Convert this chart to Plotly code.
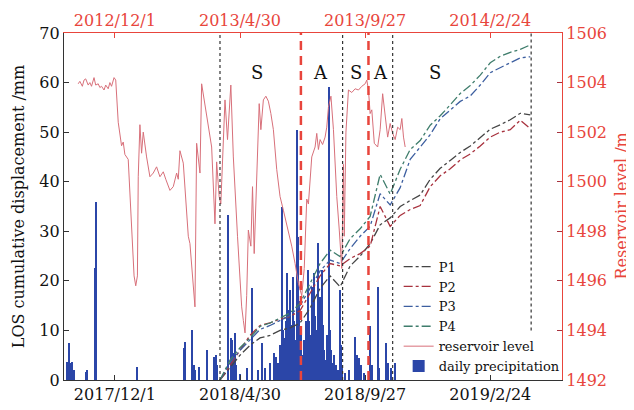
import plotly.graph_objects as go

# ---------------- data ----------------
# InSAR LOS cumulative displacement (mm), 12-day sampling
p_dates = ["2018-04-06", "2018-04-18", "2018-04-30", "2018-05-12", "2018-05-24", "2018-06-05",
           "2018-06-17", "2018-06-29", "2018-07-11", "2018-07-23", "2018-08-04", "2018-08-16",
           "2018-08-28", "2018-09-09", "2018-09-21", "2018-10-03", "2018-10-15", "2018-10-27",
           "2018-11-08", "2018-11-20", "2018-12-02", "2018-12-14", "2018-12-26", "2019-01-07",
           "2019-01-19", "2019-01-31", "2019-02-12", "2019-02-24", "2019-03-08", "2019-03-20",
           "2019-04-01", "2019-04-13"]
p1 = [0, 2.5, 5.0, 7.0, 8.5, 9.0, 10.0, 10.5, 11.5, 14.5, 18.5, 21.0, 18.8, 23.0, 25.0, 27.5,
      31.3, 32.7, 35.0, 36.2, 37.3, 40.5, 42.7, 44.3, 45.9, 47.2, 48.9, 50.6, 51.5, 52.5, 53.8, 53.5]
p2 = [0, 3.0, 6.0, 9.0, 11.0, 11.5, 12.3, 12.8, 14.0, 17.5, 21.0, 23.5, 23.0, 24.5, 25.5, 27.0,
      35.0, 31.0, 33.2, 34.4, 35.2, 39.0, 41.2, 42.6, 44.4, 45.6, 47.2, 49.0, 50.0, 50.5, 52.4, 50.7]
p3 = [0, 3.5, 6.0, 8.0, 10.2, 11.0, 12.0, 13.0, 15.0, 18.5, 22.0, 24.2, 23.5, 26.5, 29.0, 31.0,
      37.6, 35.3, 38.8, 44.5, 47.0, 49.5, 52.7, 54.5, 56.2, 57.3, 59.5, 62.0, 63.0, 64.0, 65.0, 65.2]
p4 = [0, 4.0, 6.5, 8.5, 10.8, 11.5, 12.5, 13.5, 15.5, 19.5, 23.5, 26.2, 24.9, 28.5, 30.5, 33.0,
      41.5, 37.5, 42.5, 46.5, 48.3, 51.4, 53.3, 55.5, 57.8, 59.4, 61.5, 64.0, 65.3, 66.1, 66.7, 67.6]

# Reservoir level (m), plotted against the top (2012-2014) date axis
res_dates = ["2012-10-18", "2012-10-20", "2012-10-23", "2012-10-25", "2012-10-27", "2012-10-30",
             "2012-11-01", "2012-11-03", "2012-11-06", "2012-11-08", "2012-11-11", "2012-11-13",
             "2012-11-15", "2012-11-18", "2012-11-20", "2012-11-23", "2012-11-25", "2012-11-27",
             "2012-11-30", "2012-12-02", "2012-12-05", "2012-12-07", "2012-12-09", "2012-12-11",
             "2012-12-13", "2012-12-17", "2012-12-21", "2012-12-24", "2012-12-26", "2012-12-28",
             "2012-12-29", "2012-12-31", "2013-01-02", "2013-01-04", "2013-01-08", "2013-01-12",
             "2013-01-16", "2013-01-20", "2013-01-24", "2013-01-28", "2013-01-31", "2013-02-05",
             "2013-02-09", "2013-02-13", "2013-02-15", "2013-02-17", "2013-02-21", "2013-02-27",
             "2013-03-01", "2013-03-05", "2013-03-07", "2013-03-09", "2013-03-13", "2013-03-15",
             "2013-03-21", "2013-03-27", "2013-03-31", "2013-04-02", "2013-04-05", "2013-04-07",
             "2013-04-12", "2013-04-15", "2013-04-19", "2013-04-22", "2013-04-27", "2013-05-02",
             "2013-05-04", "2013-05-06", "2013-05-08", "2013-05-10", "2013-05-13", "2013-05-15",
             "2013-05-17", "2013-05-20", "2013-05-23", "2013-05-25", "2013-05-28", "2013-05-31",
             "2013-06-03", "2013-06-06", "2013-06-09", "2013-06-13", "2013-06-17", "2013-06-21",
             "2013-06-24", "2013-06-27", "2013-07-01", "2013-07-05", "2013-07-09", "2013-07-13",
             "2013-07-16", "2013-07-19", "2013-07-21", "2013-07-25", "2013-07-29", "2013-07-31",
             "2013-08-02", "2013-08-04", "2013-08-07", "2013-08-10", "2013-08-12", "2013-08-14",
             "2013-08-17", "2013-08-20", "2013-08-24", "2013-08-27", "2013-08-30", "2013-09-01",
             "2013-09-02", "2013-09-04", "2013-09-07", "2013-09-11", "2013-09-15", "2013-09-19",
             "2013-09-23", "2013-09-27", "2013-09-29", "2013-10-01", "2013-10-03", "2013-10-05",
             "2013-10-08", "2013-10-12", "2013-10-15", "2013-10-18", "2013-10-21", "2013-10-24",
             "2013-10-27", "2013-10-30", "2013-11-02", "2013-11-05", "2013-11-08", "2013-11-10",
             "2013-11-12", "2013-11-14"]
res_level = [1503.95, 1504.05, 1503.85, 1504.10, 1504.15, 1503.90, 1504.00, 1503.85, 1504.20, 1503.90,
             1503.95, 1503.80, 1503.85, 1503.70, 1503.90, 1503.75, 1504.00, 1503.85, 1504.20, 1504.10,
             1502.40, 1501.80, 1501.45, 1501.60, 1501.10, 1500.90, 1498.00, 1496.20, 1495.80, 1496.20,
             1500.20, 1502.30, 1501.15, 1502.00, 1501.00, 1500.20, 1500.35, 1500.60, 1500.20, 1500.40,
             1500.10, 1499.65, 1499.80, 1500.35, 1500.10, 1501.25, 1500.75, 1497.80, 1497.50, 1495.90,
             1494.95, 1501.55, 1500.35, 1503.95, 1502.75, 1501.40, 1498.30, 1500.80, 1499.40, 1499.10,
             1503.30, 1501.70, 1503.90, 1501.00, 1497.80, 1494.95, 1494.40, 1493.90, 1495.40, 1498.05,
             1497.40, 1499.80, 1497.10, 1500.60, 1503.15, 1502.10, 1503.30, 1503.45, 1503.25, 1502.75,
             1502.10, 1500.50, 1499.40, 1498.85, 1498.45, 1498.05, 1497.40, 1496.70, 1495.90, 1495.40,
             1496.50, 1499.30, 1499.10, 1501.00, 1501.40, 1501.95, 1501.30, 1501.70, 1501.50, 1501.80,
             1502.20, 1503.00, 1503.45, 1502.10, 1499.40, 1498.05, 1496.50, 1500.70, 1497.80, 1502.00,
             1503.70, 1503.60, 1503.75, 1503.70, 1503.85, 1503.95, 1504.10, 1503.70, 1502.75, 1502.90,
             1501.55, 1501.40, 1502.10, 1503.55, 1502.60, 1501.80, 1502.35, 1501.95, 1501.70, 1502.20,
             1502.10, 1502.55, 1501.80, 1501.40]

# Daily precipitation (mm)
rain_dates = ["2017-10-05", "2017-10-07", "2017-10-09", "2017-10-11", "2017-10-13", "2017-10-27",
              "2017-10-29", "2017-11-07", "2017-11-08", "2017-12-28", "2018-02-22", "2018-02-23",
              "2018-03-04", "2018-03-06", "2018-03-07", "2018-03-12", "2018-03-21", "2018-03-30",
              "2018-04-01", "2018-04-02", "2018-04-16", "2018-04-19", "2018-04-20", "2018-04-22",
              "2018-04-24", "2018-04-25", "2018-04-30", "2018-05-08", "2018-05-14", "2018-05-15",
              "2018-05-22", "2018-05-27", "2018-05-30", "2018-06-05", "2018-06-10", "2018-06-12",
              "2018-06-15", "2018-06-17", "2018-06-19", "2018-06-21", "2018-06-22", "2018-06-23",
              "2018-06-24", "2018-06-26", "2018-06-27", "2018-06-28", "2018-06-29", "2018-06-30",
              "2018-07-01", "2018-07-03", "2018-07-04", "2018-07-06", "2018-07-07", "2018-07-09",
              "2018-07-10", "2018-07-12", "2018-07-14", "2018-07-16", "2018-07-18", "2018-07-19",
              "2018-07-21", "2018-07-22", "2018-07-24", "2018-07-25", "2018-07-27", "2018-07-28",
              "2018-07-29", "2018-07-30", "2018-07-31", "2018-08-02", "2018-08-03", "2018-08-04",
              "2018-08-05", "2018-08-06", "2018-08-08", "2018-08-09", "2018-08-10", "2018-08-11",
              "2018-08-13", "2018-08-15", "2018-08-16", "2018-08-17", "2018-08-19", "2018-08-21",
              "2018-08-23", "2018-08-26", "2018-08-28", "2018-08-29", "2018-08-31", "2018-09-03",
              "2018-09-08", "2018-09-15", "2018-09-17", "2018-09-20", "2018-09-22", "2018-09-26",
              "2018-10-03", "2018-10-05", "2018-10-12", "2018-10-14", "2018-10-22", "2018-10-25",
              "2018-10-28", "2018-11-02"]
rain_mm = [3.7, 7.4, 3.4, 3.7, 2.0, 1.7, 2.0, 22.5, 36.0, 2.7, 6.4, 7.7,
           10.1, 3.0, 2.0, 2.7, 6.1, 4.7, 5.0, 3.0, 33.3, 8.4, 8.0, 5.5,
           9.4, 3.0, 1.3, 2.5, 18.5, 3.0, 2.0, 7.4, 2.5, 3.5, 5.5, 4.7,
           3.5, 7.0, 35.0, 10.0, 6.5, 8.5, 12.0, 21.5, 9.0, 14.1, 18.2, 11.0,
           7.0, 20.8, 12.0, 8.0, 50.4, 28.9, 16.0, 10.1, 5.0, 8.0, 12.0, 9.0,
           22.2, 12.0, 9.0, 18.8, 14.0, 21.5, 13.0, 10.0, 7.0, 27.6, 12.0, 16.8,
           9.0, 22.2, 11.0, 6.0, 4.0, 2.5, 9.0, 59.2, 10.0, 6.0, 3.5, 5.0,
           3.0, 2.0, 18.2, 7.0, 3.0, 1.5, 2.0, 8.7, 5.0, 4.5, 3.0, 1.5,
           10.8, 3.0, 18.8, 2.5, 7.4, 3.5, 2.5, 3.4]

bottom_ticks = ["2017-12-01", "2018-04-30", "2018-09-27", "2019-02-24"]
bottom_labels = ["2017/12/1", "2018/4/30", "2018/9/27", "2019/2/24"]
top_ticks = ["2012-12-01", "2013-04-30", "2013-09-27", "2014-02-24"]
top_labels = ["2012/12/1", "2013/4/30", "2013/9/27", "2014/2/24"]

stage_dates = ["2018-05-20", "2018-08-05", "2018-09-16", "2018-10-16", "2018-12-20"]
stage_labels = ["S", "A", "S", "A", "S"]
black_lines = ["2018-04-06", "2018-08-31", "2018-10-30", "2019-04-14"]
red_lines = ["2018-07-12", "2018-10-01"]

# ---------------- figure ----------------
RED = "#e8453c"
FONT = "DejaVu Serif"
DAY = 86400000

fig = go.Figure()
p_colors = ["#454545", "#a8323e", "#3d5fa0", "#3f7d6c"]
for name, vals, col in zip(["P1", "P2", "P3", "P4"], [p1, p2, p3, p4], p_colors):
    fig.add_trace(go.Scatter(x=p_dates, y=vals, name=name, mode="lines",
                             line=dict(color=col, width=1.3, dash="dashdot"),
                             xaxis="x", yaxis="y"))

fig.add_trace(go.Scatter(x=res_dates, y=res_level, name="reservoir level", mode="lines",
                         line=dict(color="#d8707a", width=1), xaxis="x2", yaxis="y2"))

fig.add_trace(go.Bar(x=rain_dates, y=rain_mm, name="daily precipitation",
                     marker=dict(color="#2b46a8", line=dict(width=0)),
                     width=1.5 * DAY, xaxis="x", yaxis="y"))

shapes = []
for d in black_lines[:-1]:
    shapes.append(dict(type="line", xref="x", yref="y", x0=d, x1=d, y0=0, y1=70,
                       line=dict(color="#333333", width=1.2, dash="3px,3px")))
shapes.append(dict(type="line", xref="x", yref="y", x0=black_lines[-1], x1=black_lines[-1],
                   y0=10, y1=70, line=dict(color="#333333", width=1.2, dash="3px,3px")))
for d in red_lines:
    shapes.append(dict(type="line", xref="x", yref="y", x0=d, x1=d, y0=0, y1=70,
                       line=dict(color=RED, width=2.5, dash="9px,6px")))

annotations = [dict(x=d, y=62, xref="x", yref="y", text=t, showarrow=False,
                    font=dict(family=FONT, size=18, color="#111111"))
               for d, t in zip(stage_dates, stage_labels)]
annotations.append(dict(x=1.0, y=0.5, xref="paper", yref="paper", text="Reservoir level /m",
                        textangle=-90, showarrow=False, xanchor="center", yanchor="middle",
                        xshift=59, font=dict(family=FONT, size=16, color=RED)))

# the page body adds an 8 px offset, so the figure is 8 px smaller on each axis
fig.update_layout(
    width=626, height=402,
    margin=dict(l=56, r=72, t=25, b=30, autoexpand=False),
    plot_bgcolor="white", paper_bgcolor="white",
    font=dict(family=FONT, size=16, color="#111111"),
    bargap=0,
    showlegend=True,
    legend=dict(x=0.672, y=0.37, xanchor="left", yanchor="top",
                bgcolor="rgba(0,0,0,0)", borderwidth=0,
                font=dict(family=FONT, size=13, color="#111111"),
                tracegroupgap=0, itemwidth=30),
    xaxis=dict(type="date", range=["2017-10-01", "2019-05-21"],
               tickvals=bottom_ticks, ticktext=bottom_labels,
               ticks="inside", ticklen=5, tickcolor="#333333",
               showline=True, linecolor="#333333", linewidth=1.2,
               showgrid=False, zeroline=False,
               tickfont=dict(family=FONT, size=16, color="#111111")),
    xaxis2=dict(type="date", range=["2012-10-01", "2014-05-21"],
                overlaying="x", side="top", anchor="y2",
                tickvals=top_ticks, ticktext=top_labels,
                ticks="inside", ticklen=5, tickcolor=RED,
                showline=True, linecolor=RED, linewidth=1.2,
                showgrid=False, zeroline=False,
                tickfont=dict(family=FONT, size=16, color=RED)),
    yaxis=dict(range=[0, 70], tickvals=[0, 10, 20, 30, 40, 50, 60, 70],
               ticks="inside", ticklen=5, tickcolor="#333333",
               showline=True, linecolor="#333333", linewidth=1.2,
               showgrid=False, zeroline=False,
               title=dict(text="LOS cumulative displacement /mm", standoff=10,
                          font=dict(family=FONT, size=16, color="#111111")),
               tickfont=dict(family=FONT, size=16, color="#111111")),
    yaxis2=dict(range=[1492, 1506], tickvals=list(range(1492, 1507, 2)),
                overlaying="y", side="right", anchor="x",
                ticks="inside", ticklen=5, tickcolor="#a8323e",
                showline=True, linecolor=RED, linewidth=1.2,
                showgrid=False, zeroline=False,
                tickfont=dict(family=FONT, size=16, color=RED)),
    shapes=shapes,
    annotations=annotations,
)

fig.write_html("out.html")
